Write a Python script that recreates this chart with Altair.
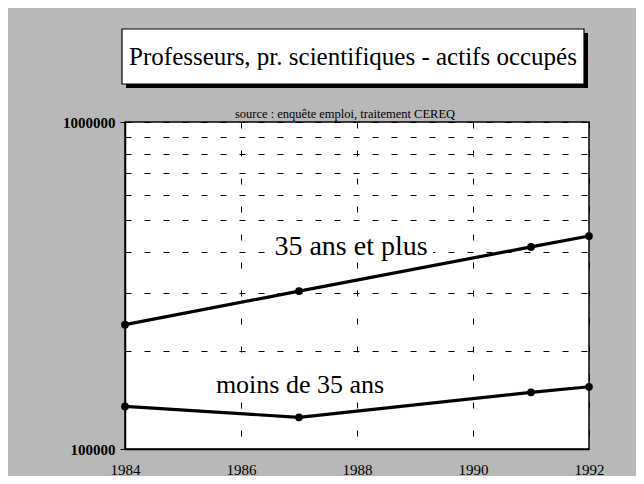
import altair as alt
import pandas as pd

# ---- data ----
years = [1984, 1987, 1991, 1992]
plus35 = [240000, 304000, 415000, 448000]
moins35 = [135000, 125000, 149000, 155000]
series_names = ["35 ans et plus", "moins de 35 ans"]
x_ticks = [1984, 1986, 1988, 1990, 1992]
y_ticks = [100000, 200000, 300000, 400000, 500000, 600000, 700000, 800000, 900000, 1000000]
title_text = "Professeurs, pr. scientifiques - actifs occupés"
source_text = "source : enquête emploi, traitement CEREQ"

df = pd.DataFrame({
    "annee": years + years,
    "valeur": plus35 + moins35,
    "serie": [series_names[0]] * len(years) + [series_names[1]] * len(years),
})
one = pd.DataFrame({"k": [0]})

W, H = 464, 327
SERIF = "Liberation Serif"

x_scale = alt.Scale(domain=[1984, 1992], nice=False, zero=False)
y_scale = alt.Scale(type="log", domain=[100000, 1000000], nice=False)

x_axis = alt.Axis(values=x_ticks, format="d", title=None, grid=True,
                  gridColor="black", gridDash=[6, 22], gridWidth=1, gridOpacity=1,
                  ticks=False, domain=True, domainColor="black", domainWidth=1.5,
                  labelFont=SERIF, labelFontSize=15, labelColor="black",
                  labelPadding=13, labelFlush=False)
y_axis = alt.Axis(values=y_ticks, format="d", title=None, grid=True,
                  gridColor="black", gridDash=[6, 13], gridWidth=1, gridOpacity=1,
                  ticks=True, tickSize=5, tickColor="black",
                  tickOpacity={"condition": {"test": "datum.value == 100000 || datum.value == 1000000", "value": 1}, "value": 0},
                  domain=True, domainColor="black", domainWidth=1.5,
                  labelExpr="(datum.value == 100000 || datum.value == 1000000) ? datum.label : ''",
                  labelFont=SERIF, labelFontSize=15, labelColor="black",
                  labelFontWeight="bold", labelPadding=5, labelFlush=False)

base = alt.Chart(df)

# title box (shadow, box, text)
shadow = alt.Chart(one).mark_rect(color="black").encode(
    x=alt.value(1), x2=alt.value(463), y=alt.value(-89), y2=alt.value(-34))
box = alt.Chart(one).mark_rect(fill="white", stroke="black", strokeWidth=1.2).encode(
    x=alt.value(-3), x2=alt.value(459), y=alt.value(-93), y2=alt.value(-38))
title = alt.Chart(one).mark_text(font=SERIF, fontSize=25, color="black",
                                 align="center", baseline="middle").encode(
    x=alt.value(228), y=alt.value(-65), text=alt.value(title_text))
source = alt.Chart(one).mark_text(font=SERIF, fontSize=12.5, color="black",
                                  align="center", baseline="alphabetic").encode(
    x=alt.value(220), y=alt.value(-4), text=alt.value(source_text))

# label backgrounds
bg1 = alt.Chart(one).mark_rect(fill="white").encode(
    x=alt.value(143), x2=alt.value(308), y=alt.value(108), y2=alt.value(140))
bg2 = alt.Chart(one).mark_rect(fill="white").encode(
    x=alt.value(88), x2=alt.value(262), y=alt.value(247), y2=alt.value(278))

lab1 = alt.Chart(one).mark_text(font=SERIF, fontSize=28, color="black",
                                align="center", baseline="alphabetic").encode(
    x=alt.value(226), y=alt.value(133), text=alt.value(series_names[0]))
lab2 = alt.Chart(one).mark_text(font=SERIF, fontSize=26, color="black",
                                align="center", baseline="alphabetic").encode(
    x=alt.value(175), y=alt.value(271), text=alt.value(series_names[1]))

lines = base.mark_line(color="black", strokeWidth=3.2).encode(
    x=alt.X("annee:Q", scale=x_scale, axis=x_axis),
    y=alt.Y("valeur:Q", scale=y_scale, axis=y_axis),
    detail="serie:N")
points = base.mark_point(filled=True, color="black", size=60, opacity=1).encode(
    x=alt.X("annee:Q", scale=x_scale),
    y=alt.Y("valeur:Q", scale=y_scale),
    detail="serie:N")

chart = alt.layer(lines, shadow, box, title, source, bg1, bg2, lab1, lab2, points).properties(
    width=W, height=H,
    autosize=alt.AutoSizeParams(type="none"),
    padding={"left": 117, "top": 114, "right": 47, "bottom": 27},
).configure(background="#b8b8b8").configure_view(
    fill="white", stroke="black", strokeWidth=1.5)

chart.save("out.html", embed_options={"renderer": "svg", "actions": False})
